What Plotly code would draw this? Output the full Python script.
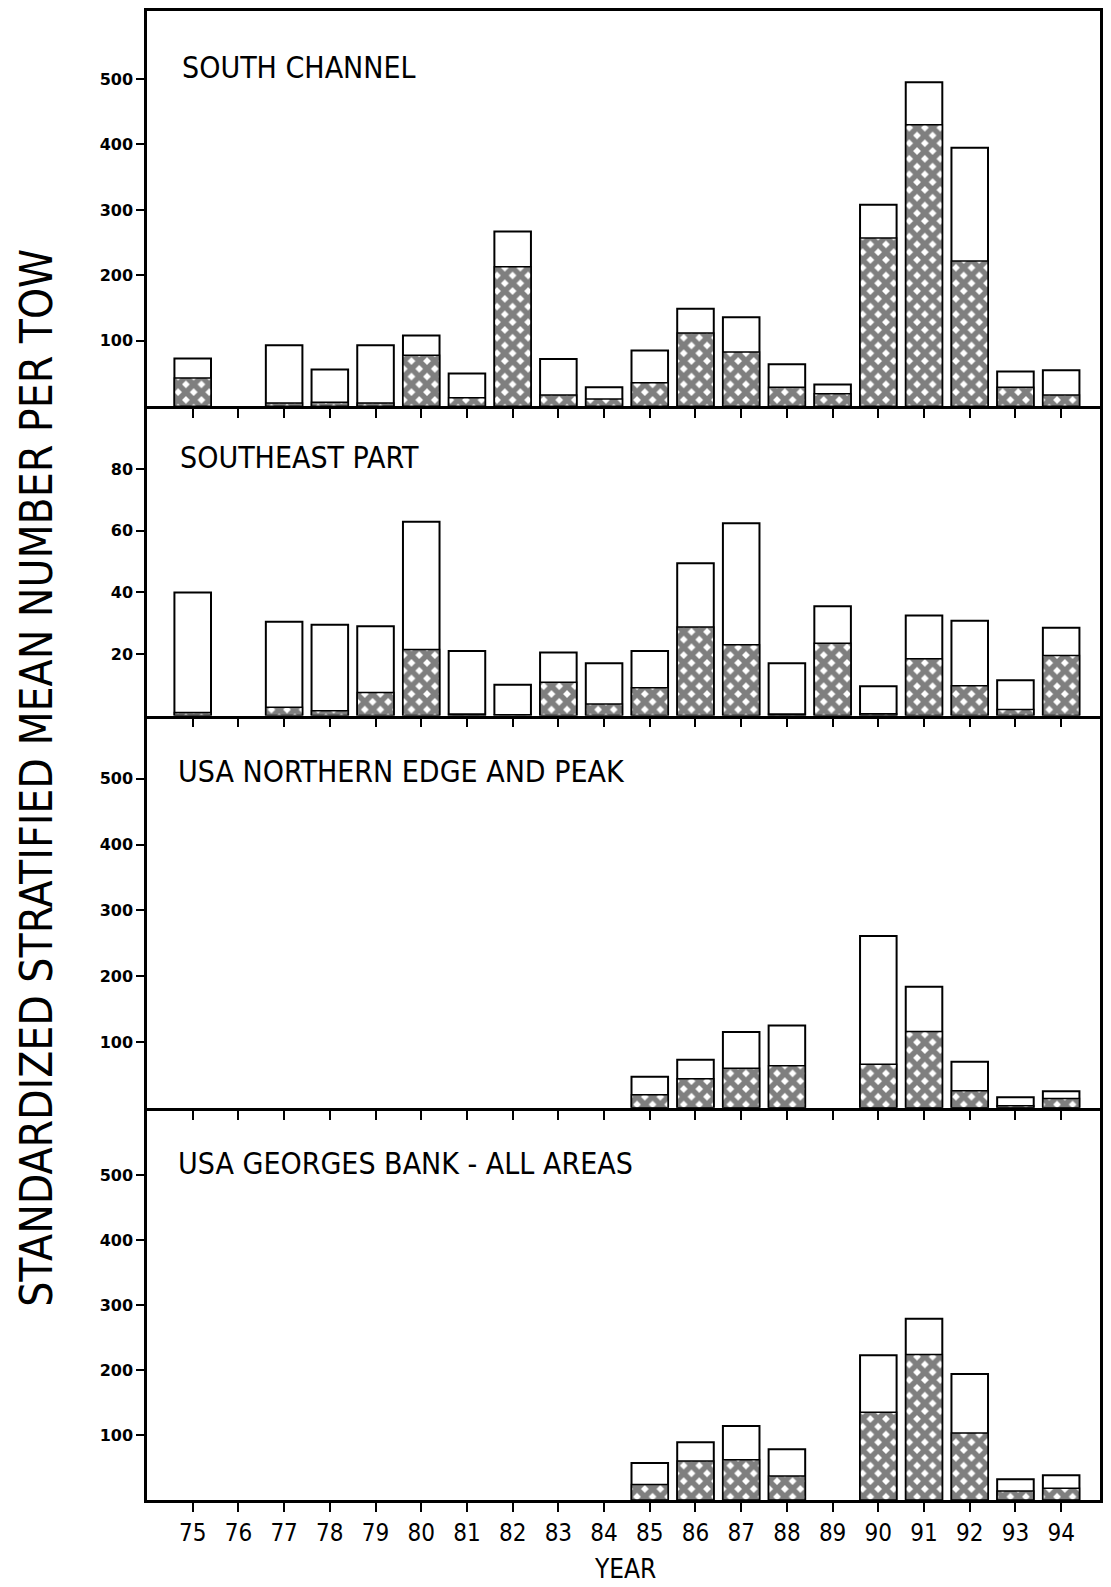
import plotly.graph_objects as go
from plotly.subplots import make_subplots

# ---------------- data ----------------
years = list(range(75, 95))
year_labels = [str(y) for y in years]

panel_titles = ["SOUTH CHANNEL", "SOUTHEAST PART",
                "USA NORTHERN EDGE AND PEAK", "USA GEORGES BANK - ALL AREAS"]

# South Channel: total (open bar) and hatched portion
sc_total = [73, None, 93, 56, 93, 108, 50, 267, 72, 29, 85, 149, 136, 64, 33, 308, 495, 395, 53, 55]
sc_hatch = [43, None, 5, 6, 5, 78, 13, 213, 17, 11, 36, 112, 83, 29, 19, 257, 430, 222, 29, 17]

# Southeast Part
se_total = [40, None, 30.5, 29.5, 29, 63, 21, 10, 20.5, 17, 21, 49.5, 62.5, 17, 35.5, 9.5, 32.5, 30.8, 11.5, 28.5]
se_hatch = [1, None, 2.7, 1.6, 7.5, 21.5, 0.5, 0.3, 10.8, 3.8, 9, 28.8, 23, 0.5, 23.5, 0.6, 18.5, 9.7, 2, 19.5]

# USA Northern Edge and Peak
ne_total = [None] * 10 + [47, 73, 115, 125, None, 261, 184, 70, 16, 25]
ne_hatch = [None] * 10 + [20, 44, 60, 64, None, 66, 116, 26, 3, 14]

# USA Georges Bank - all areas
gb_total = [None] * 10 + [57, 89, 114, 78, None, 223, 279, 194, 32, 38]
gb_hatch = [None] * 10 + [24, 60, 62, 37, None, 135, 224, 103, 14, 18]

totals = [sc_total, se_total, ne_total, gb_total]
hatches = [sc_hatch, se_hatch, ne_hatch, gb_hatch]

y_ranges = [[0, 604], [0, 100.5], [0, 596], [0, 604]]
y_ticks = [[100, 200, 300, 400, 500], [20, 40, 60, 80],
           [100, 200, 300, 400, 500], [100, 200, 300, 400, 500]]

# ---------------- layout geometry ----------------
W, H = 1111, 1587
L, R, T, B = 147, 8, 8, 87
plot_w = W - L - R
plot_h = H - T - B
bounds = [8, 404, 714, 1107, 1500]  # pixel y of panel edges (top -> bottom)
heights = [bounds[i + 1] - bounds[i] for i in range(4)]


def px_x(px):
    return (px - L) / plot_w


def px_y(py):
    return (H - B - py) / plot_h


fig = make_subplots(rows=4, cols=1, shared_xaxes=True, vertical_spacing=0,
                    row_heights=[h / plot_h for h in heights])

narrow = "Liberation Sans Narrow, DejaVu Sans Condensed, Arial Narrow, sans-serif"

for i in range(4):
    r = i + 1
    fig.add_trace(go.Bar(
        x=years, y=totals[i], width=0.8,
        marker=dict(color="white", line=dict(color="black", width=2)),
        showlegend=False), row=r, col=1)
    fig.add_trace(go.Bar(
        x=years, y=hatches[i], width=0.8,
        marker=dict(color="white", line=dict(color="black", width=1.5),
                    pattern=dict(shape="x", fgcolor="black", bgcolor="white",
                                 size=11, solidity=0.75)),
        showlegend=False), row=r, col=1)
    fig.update_yaxes(range=y_ranges[i], tickvals=y_ticks[i],
                     ticks="outside", ticklen=8, tickwidth=1.5, tickcolor="black",
                     showline=True, linecolor="black", linewidth=2.5, mirror=True,
                     showgrid=False, zeroline=False,
                     tickfont=dict(family="DejaVu Sans", size=16, color="black", weight="bold"),
                     row=r, col=1)
    fig.update_xaxes(range=[74.0, 94.85], tickvals=years, ticktext=year_labels,
                     ticks="outside", ticklen=9, tickwidth=1.5, tickcolor="black",
                     showline=True, linecolor="black", linewidth=2.5,
                     mirror=(r == 1),
                     showgrid=False, zeroline=False,
                     showticklabels=(r == 4),
                     tickfont=dict(family=narrow, size=24, color="black"),
                     row=r, col=1)

title_px = [(180, 65), (178, 455), (176, 770), (176, 1163)]
annotations = []
for t, (tx, ty) in zip(panel_titles, title_px):
    annotations.append(dict(text=t, x=px_x(tx), y=px_y(ty), xref="paper", yref="paper",
                            xanchor="left", yanchor="middle", showarrow=False,
                            font=dict(family=narrow, size=30, color="black")))

annotations.append(dict(text="STANDARDIZED STRATIFIED MEAN NUMBER PER TOW",
                        x=px_x(36), y=px_y(776), xref="paper", yref="paper",
                        xanchor="center", yanchor="middle", textangle=-90, showarrow=False,
                        font=dict(family=narrow, size=44, color="black")))
annotations.append(dict(text="YEAR", x=px_x(627), y=px_y(1569), xref="paper", yref="paper",
                        xanchor="center", yanchor="middle", showarrow=False,
                        font=dict(family=narrow, size=26, color="black")))

fig.update_layout(width=W, height=H, barmode="overlay", bargap=0.2,
                  margin=dict(l=L, r=R, t=T, b=B),
                  plot_bgcolor="white", paper_bgcolor="white",
                  annotations=annotations, showlegend=False)

fig.write_html("out.html", config={"displayModeBar": False},
               post_script="document.body.style.margin='0';document.body.style.padding='0';")
